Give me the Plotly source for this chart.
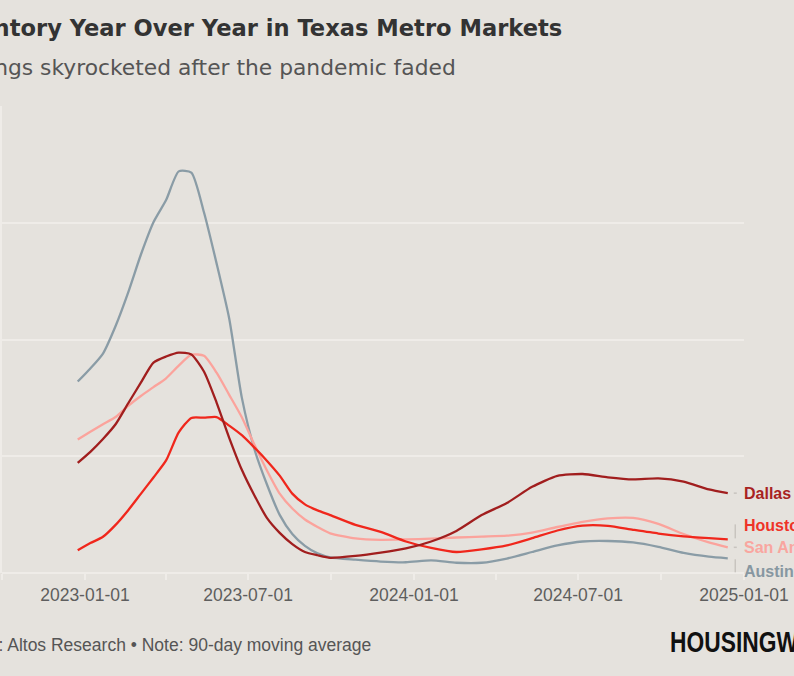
import plotly.graph_objects as go

# ---------------- data ----------------
dates = [
    "2022-12-24", "2023-01-07", "2023-01-21", "2023-02-04", "2023-02-18",
    "2023-03-04", "2023-03-18", "2023-04-01", "2023-04-15", "2023-04-29",
    "2023-05-13", "2023-05-27", "2023-06-10", "2023-06-24", "2023-07-08",
    "2023-07-22", "2023-08-05", "2023-08-19", "2023-09-02", "2023-09-16",
    "2023-09-30", "2023-10-28", "2023-11-25", "2023-12-23", "2024-01-20",
    "2024-02-17", "2024-03-16", "2024-04-13", "2024-05-11", "2024-06-08",
    "2024-07-06", "2024-08-03", "2024-08-31", "2024-09-28", "2024-10-26",
    "2024-11-23", "2024-12-14",
]

dallas = [47.2, 51.9, 57.4, 63.7, 72.7, 81.5, 90.1, 92.7, 94.4, 93.6,
          86.3, 73.0, 57.9, 44.2, 33.2, 23.5, 17.2, 12.4, 9.0, 7.6,
          6.5, 7.3, 8.7, 10.5, 13.5, 18.0, 24.8, 30.0, 36.9, 41.6,
          42.4, 41.0, 40.1, 40.5, 39.1, 35.8, 34.2]

houston = [9.7, 12.8, 15.5, 20.6, 26.9, 33.9, 40.9, 48.2, 60.2, 66.4,
           66.5, 66.8, 63.1, 59.0, 53.7, 48.0, 41.7, 34.0, 29.4, 26.8,
           24.8, 20.6, 17.6, 13.5, 10.8, 9.0, 10.1, 11.8, 14.9, 18.2,
           20.3, 20.2, 18.5, 16.9, 15.7, 14.9, 14.4]

san_antonio = [57.2, 60.5, 63.7, 66.8, 71.6, 75.8, 79.6, 83.4, 88.8, 93.5,
               93.0, 85.8, 76.3, 66.7, 54.9, 43.8, 34.0, 27.6, 22.9, 19.7,
               17.0, 14.8, 14.2, 14.4, 14.7, 15.2, 15.6, 16.0, 17.3, 19.7,
               21.9, 23.4, 23.6, 21.0, 16.7, 13.1, 11.0]

austin = [82.0, 87.6, 94.0, 105.8, 120.2, 136.3, 150.2, 159.7, 172.0, 171.5,
          154.5, 132.6, 109.0, 75.1, 53.0, 37.8, 24.9, 16.7, 11.6, 8.4,
          6.7, 5.7, 4.9, 4.6, 5.4, 4.4, 4.4, 6.2, 9.0, 11.8,
          13.5, 13.7, 13.1, 11.2, 8.6, 7.0, 6.3]

names = ["Austin", "San Antonio", "Houston", "Dallas"]
values = [austin, san_antonio, houston, dallas]

title_text = "Change in Inventory Year Over Year in Texas Metro Markets"
subtitle_text = "Listings skyrocketed after the pandemic faded"
source_text = "Source: Altos Research \u2022 Note: 90-day moving average"
logo_text = "HOUSINGWIRE"

# ---------------- styles ----------------
BG = "#e5e2dd"
GRID = "#efece8"
line_colors = {"Austin": "#8a9ca6", "San Antonio": "#fba39c",
               "Houston": "#f0271c", "Dallas": "#a11e1e"}
label_colors = {"Austin": "#8797a1", "San Antonio": "#f9a6a0",
                "Houston": "#ef3328", "Dallas": "#a8221f"}
label_yshift = {"Austin": -13, "San Antonio": 0, "Houston": 14, "Dallas": 0}

W_FIG, H_FIG = 794, 676
L, R, T, B = 2, 744, 106, 573


def px(x):
    return (x - L) / (R - L)


def py(y):
    return (B - y) / (B - T)


fig = go.Figure()
for name, vals in zip(names, values):
    fig.add_trace(go.Scatter(
        x=dates, y=vals, mode="lines", name=name,
        line=dict(color=line_colors[name], width=2.3,
                  shape="spline", smoothing=0.6),
        hoverinfo="x+y+name",
    ))

annotations = []
shapes = []
for name, vals in zip(names, values):
    annotations.append(dict(
        x=dates[-1], y=vals[-1], xref="x", yref="y",
        text=f"<b>{name}</b>", showarrow=False,
        xanchor="left", yanchor="middle", xshift=14, yshift=label_yshift[name],
        font=dict(family="Liberation Sans, Arial, sans-serif", size=16,
                  color=label_colors[name]),
    ))
    dy = label_yshift[name]
    if dy == 0:
        x0, x1, y0, y1 = 6, 9, 0, 0
    elif dy > 0:
        x0, x1, y0, y1 = 7.5, 7.5, 1, dy + 1
    else:
        x0, x1, y0, y1 = 7.5, 7.5, -1, dy - 1
    shapes.append(dict(
        type="line", xref="x", yref="y",
        xsizemode="pixel", ysizemode="pixel",
        xanchor=dates[-1], yanchor=vals[-1],
        x0=x0, x1=x1, y0=y0, y1=y1,
        line=dict(color="#c8c4bf", width=1.5),
    ))

annotations += [
    dict(xref="paper", yref="paper", x=px(564), y=py(28),
         xanchor="right", yanchor="middle", showarrow=False,
         text=f"<b>{title_text}</b>",
         font=dict(family="DejaVu Sans, sans-serif", size=22.6, color="#333333")),
    dict(xref="paper", yref="paper", x=px(458), y=py(67),
         xanchor="right", yanchor="middle", showarrow=False,
         text=subtitle_text,
         font=dict(family="DejaVu Sans, sans-serif", size=21.8, color="#555555")),
    dict(xref="paper", yref="paper", x=px(373), y=py(645),
         xanchor="right", yanchor="middle", showarrow=False,
         text=source_text,
         font=dict(family="Liberation Sans, Arial, sans-serif", size=17.5,
                   color="#555555")),
    dict(xref="paper", yref="paper", x=px(668), y=py(641),
         xanchor="left", yanchor="middle", showarrow=False,
         text=f"<b>{logo_text}</b>",
         font=dict(family="Liberation Sans, Arial, sans-serif",
                   size=30, color="#111111")),
]

fig.update_layout(
    width=W_FIG, height=H_FIG,
    margin=dict(l=L, r=W_FIG - R, t=T, b=H_FIG - B, pad=0),
    paper_bgcolor=BG, plot_bgcolor=BG,
    showlegend=False,
    annotations=annotations,
    shapes=shapes,
    xaxis=dict(
        type="date", range=["2022-10-01", "2025-01-01"],
        tick0="2023-01-01", dtick="M6", tickformat="%Y-%m-%d",
        ticks="outside", ticklen=6, tickcolor=GRID, tickwidth=1.5,
        showgrid=False, zeroline=False, showline=False,
        tickfont=dict(family="Liberation Sans, Arial, sans-serif", size=17.5,
                      color="#5e5e5e"),
        minor=dict(dtick="M3", tick0="2022-10-01", ticks="outside",
                   ticklen=6, tickcolor=GRID, tickwidth=1.5, showgrid=False),
    ),
    yaxis=dict(
        range=[0, 200], dtick=50, showticklabels=False,
        showgrid=True, gridcolor=GRID, gridwidth=1.5,
        zeroline=True, zerolinecolor=GRID, zerolinewidth=1.5,
        showline=True, linecolor=GRID, linewidth=1.5,
        ticks="",
    ),
)

post_script = """
document.body.style.margin = '0';
document.body.style.background = '#e5e2dd';
document.querySelectorAll('text.annotation-text').forEach(function (el) {
  if (el.textContent.indexOf('HOUSINGWIRE') >= 0) {
    el.style.transformBox = 'fill-box';
    el.style.transformOrigin = '0% 50%';
    el.style.transform = 'scaleX(0.76)';
  }
});
"""

fig.write_html("out.html", post_script=post_script,
               config={"displayModeBar": False})
